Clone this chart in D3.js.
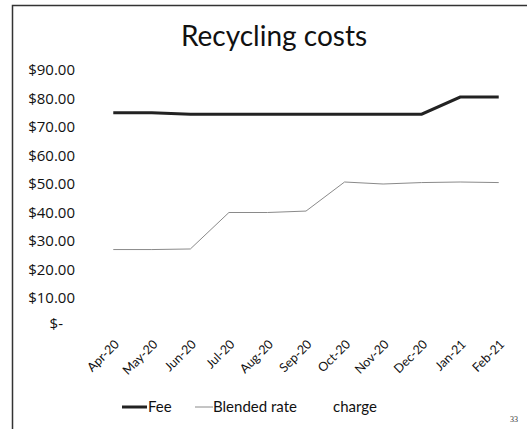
<!DOCTYPE html>
<html>
<head>
<meta charset="utf-8">
<script src="https://cdn.jsdelivr.net/npm/d3@7"></script>
<style>
  body { margin: 0; background: #fff; }
  svg { display: block; font-family: Lato, "Noto Sans", sans-serif; }
</style>
</head>
<body>
<svg id="chart"></svg>
<script>
var months = ["Apr-20", "May-20", "Jun-20", "Jul-20", "Aug-20", "Sep-20",
              "Oct-20", "Nov-20", "Dec-20", "Jan-21", "Feb-21"];
var fee = [75, 75, 74.5, 74.5, 74.5, 74.5, 74.5, 74.5, 74.5, 80.5, 80.5];
var blended = [27, 27, 27.2, 40, 40, 40.5, 50.7, 50, 50.5, 50.7, 50.5];
var yTicks = [0, 10, 20, 30, 40, 50, 60, 70, 80, 90];

var width = 527, height = 429;

var svg = d3.select("#chart")
  .attr("width", width)
  .attr("height", height);

// slide frame (left and top edges only)
svg.append("path")
  .attr("d", "M12.5," + height + "V5.5H" + width)
  .attr("fill", "none")
  .attr("stroke", "#333")
  .attr("stroke-width", 1.5);

var x = d3.scalePoint()
  .domain(months)
  .range([94, 518])
  .padding(0.5);

var y = d3.scaleLinear()
  .domain([0, 90])
  .range([326.5, 70]);

svg.append("text")
  .attr("x", 274)
  .attr("y", 46)
  .attr("text-anchor", "middle")
  .attr("font-size", 28)
  .attr("fill", "#111")
  .text("Recycling costs");

// y axis labels only, no line
var yAxis = d3.axisLeft(y)
  .tickValues(yTicks)
  .tickSize(0)
  .tickPadding(0)
  .tickFormat(function(d) { return d === 0 ? "$-" : "$" + d3.format(".2f")(d); });

var gy = svg.append("g")
  .attr("transform", "translate(75,0)")
  .call(yAxis);
gy.select(".domain").remove();
gy.selectAll("text")
  .attr("font-size", 15)
  .attr("font-family", "'Open Sans', sans-serif")
  .attr("fill", "#111")
  .attr("dx", function(d) { return d === 0 ? -12 : 0; })
  .attr("dy", function(d) { return d === 0 ? "0.1em" : "0.32em"; });

// x axis rotated labels
var xAxis = d3.axisBottom(x).tickSize(0).tickPadding(0);
var gx = svg.append("g")
  .attr("transform", "translate(0,345)")
  .call(xAxis);
gx.select(".domain").remove();
gx.selectAll("text")
  .attr("font-size", 12.5)
  .attr("font-family", "Lato, sans-serif")
  .attr("fill", "#111")
  .attr("text-anchor", "end")
  .attr("dy", 0)
  .attr("transform", "translate(6,0) rotate(-45)");

var line = d3.line()
  .x(function(d, i) { return x(months[i]); })
  .y(function(d) { return y(d); });

svg.append("path")
  .datum(blended)
  .attr("fill", "none")
  .attr("stroke", "#8a8a8a")
  .attr("stroke-width", 1)
  .attr("d", line);

svg.append("path")
  .datum(fee)
  .attr("fill", "none")
  .attr("stroke", "#222")
  .attr("stroke-width", 3)
  .attr("d", line);

// legend
var legend = svg.append("g").attr("transform", "translate(0,407)");
legend.append("line")
  .attr("x1", 122).attr("x2", 147)
  .attr("stroke", "#222").attr("stroke-width", 3);
legend.append("text")
  .attr("x", 148).attr("dy", "0.35em")
  .attr("font-size", 15).attr("fill", "#111")
  .text("Fee");
legend.append("line")
  .attr("x1", 195).attr("x2", 213)
  .attr("stroke", "#8a8a8a").attr("stroke-width", 1);
legend.append("text")
  .attr("x", 213).attr("dy", "0.35em")
  .attr("font-size", 15).attr("fill", "#111")
  .text("Blended rate");
legend.append("text")
  .attr("x", 333).attr("dy", "0.35em")
  .attr("font-size", 15).attr("fill", "#111")
  .text("charge");

svg.append("text")
  .attr("x", 510).attr("y", 422)
  .attr("font-size", 8)
  .attr("font-family", "Liberation Serif, serif")
  .attr("fill", "#333")
  .text("33");
</script>
</body>
</html>
